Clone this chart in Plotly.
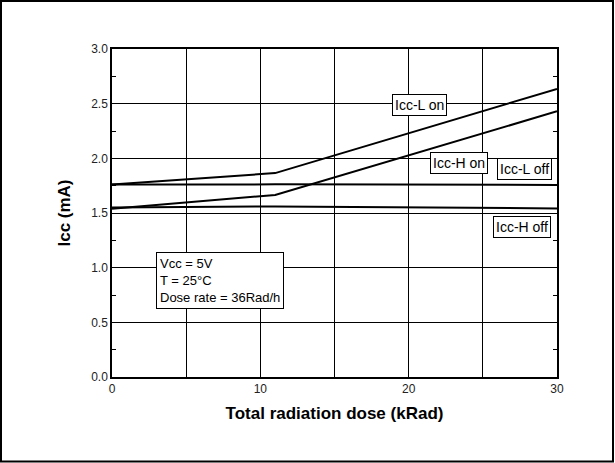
import plotly.graph_objects as go

# Supply current versus total ionizing dose
dose = [0, 11, 30]
icc_l_on = [1.76, 1.865, 2.635]
icc_h_on = [1.54, 1.665, 2.43]
icc_l_off = [1.76, 1.762, 1.757]
icc_h_off = [1.55, 1.56, 1.542]

series = [
    ("Icc-L on", icc_l_on, 20.72, 2.484),
    ("Icc-H on", icc_h_on, 23.41, 1.956),
    ("Icc-L off", icc_l_off, 27.83, 1.901),
    ("Icc-H off", icc_h_off, 27.61, 1.376),
]

conditions = ["Vcc = 5V", "T = 25°C", "Dose rate = 36Rad/h"]

FONT = "Liberation Sans, Arial, sans-serif"

fig = go.Figure()
for name, vals, _, _ in series:
    fig.add_trace(go.Scatter(x=dose, y=vals, mode="lines", name=name,
                             line=dict(color="black", width=2), showlegend=False))

for name, _, lx, ly in series:
    fig.add_annotation(x=lx, y=ly, text=name, showarrow=False,
                       font=dict(family=FONT, size=14, color="black"),
                       bgcolor="white", bordercolor="black", borderwidth=1,
                       borderpad=2)

fig.add_annotation(x=2.97, y=0.88, xanchor="left", yanchor="middle",
                   text="<br>".join(conditions), align="left", showarrow=False,
                   font=dict(family=FONT, size=13, color="black"),
                   bgcolor="white", bordercolor="black", borderwidth=1,
                   borderpad=3)

# Frame around the whole figure
fig.add_shape(type="rect", xref="paper", yref="paper",
              xsizemode="pixel", ysizemode="pixel", xanchor=0, yanchor=0,
              x0=-111, x1=501, y0=-84.5, y1=376,
              line=dict(color="black", width=2), layer="above")

fig.update_layout(
    width=615, height=463,
    margin=dict(l=112, r=58, t=49, b=86),
    paper_bgcolor="white", plot_bgcolor="white",
    font=dict(family=FONT, color="#222"),
    xaxis=dict(
        range=[0, 30], dtick=10, tick0=0,
        showgrid=True, gridcolor="black", gridwidth=1,
        minor=dict(dtick=5, showgrid=True, gridcolor="black", gridwidth=1),
        showline=True, linecolor="black", linewidth=1.5, mirror=True,
        ticks="", zeroline=False,
        tickfont=dict(size=12, color="#222"),
        title=dict(text="<b>Total radiation dose (kRad)</b>",
                   font=dict(size=17, color="black"), standoff=12),
    ),
    yaxis=dict(
        range=[0, 3], dtick=0.5, tick0=0, tickformat=".1f",
        showgrid=True, gridcolor="black", gridwidth=1,
        minor=dict(dtick=0.25, ticks="inside", ticklen=4, tickcolor="black",
                   showgrid=False),
        ticks="inside", ticklen=4, tickcolor="black",
        showline=True, linecolor="black", linewidth=1.5, mirror="allticks",
        zeroline=False,
        tickfont=dict(size=12, color="#222"),
        title=dict(text="<b>Icc (mA)</b>",
                   font=dict(size=17, color="black"), standoff=16),
    ),
)

fig.write_html("out.html")
